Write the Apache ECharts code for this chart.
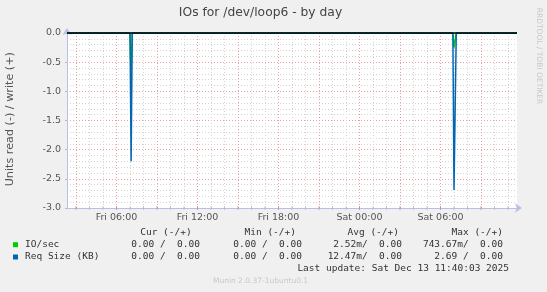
<!DOCTYPE html>
<html><head><meta charset="utf-8">
<script src="https://cdn.jsdelivr.net/npm/echarts@6/dist/echarts.min.js"></script>
<style>html,body{margin:0;padding:0;background:#f0f0f0}#c{width:547px;height:292px}</style>
</head><body><div id="c"></div>
<script>
// ---- data ----
const times   = ['Fri 02:20','Fri 07:00','Fri 07:05','Fri 07:10','Sat 06:55','Sat 07:00','Sat 07:05','Sat 07:10','Sat 11:40'];
const ioRead  = [0, 0, -0.74, 0, 0, -0.25, -0.25, 0, 0];
const reqRead = [0, 0, -2.2,  0, 0, -2.69, -2.69, 0, 0];
const seriesNames  = ['IO/sec', 'Req Size (KB)'];
const xTickLabels  = ['Fri 06:00','Fri 12:00','Fri 18:00','Sat 00:00','Sat 06:00'];
const statHeaders  = ['Cur (-/+)','Min (-/+)','Avg (-/+)','Max (-/+)'];
const ioStats      = ['0.00 /  0.00','0.00 /  0.00','2.52m/  0.00','743.67m/  0.00'];
const reqStats     = ['0.00 /  0.00','0.00 /  0.00','12.47m/  0.00','2.69 /  0.00'];
const lastUpdate   = 'Last update: Sat Dec 13 11:40:03 2025';

// ---- helpers ----
function toMin(s){const [d,hm]=s.split(' ');const [h,m]=hm.split(':').map(Number);return (d==='Sat'?1440:0)+h*60+m;}
function fmtMin(v){return (v>=1440?'Sat':'Fri')+' '+String(Math.floor((v%1440)/60)).padStart(2,'0')+':'+String(v%60).padStart(2,'0');}
const xMin = toMin(times[0]), xMax = toMin(times[times.length-1]);
const colors = ['#00cc00','#0066b3'];
const mono = 'DejaVu Sans Mono', sans = 'DejaVu Sans';
const axisCol = '#b8c0e8', minorCol = '#d4d4d4', majorCol = '#eaa0a0', none = 'rgba(0,0,0,0)';
// split lines every 20 min starting at xMin (02:20): show hourly (gray) and 3-hourly (red)
const splitColors = [];
for (let i=0;i<9;i++){const m=xMin+20*i; splitColors.push(m%180===0?majorCol:(m%60===0?minorCol:none));}
const hourTicks=[], majorTicks=[];
for (let m=Math.ceil(xMin/60)*60; m<=xMax; m+=60){ (m%180===0?majorTicks:hourTicks).push([m,-3]); }

const G = {left:67, top:33, width:450, height:175};
const chart = echarts.init(document.getElementById('c'), null, {renderer:'canvas'});
const graphic = [];
function txt(x,y,t,opt){graphic.push({type:'text',x,y,silent:true,style:Object.assign({text:t,textAlign:'left',textVerticalAlign:'middle',fill:'#333',font:'9.5px '+mono},opt||{})});}
txt(260.5,13.3,'IOs for /dev/loop6 - by day',{textAlign:'center',fill:'#444',font:'12.3px '+sans});
graphic.push({type:'text',x:10,y:119.2,rotation:Math.PI/2,silent:true,style:{text:'Units read (-) / write (+)',textAlign:'center',textVerticalAlign:'middle',fill:'#555',font:'11.2px '+sans}});
graphic.push({type:'text',x:538.5,y:56,rotation:-Math.PI/2,silent:true,style:{text:'RRDTOOL / TOBI OETIKER',textAlign:'center',textVerticalAlign:'middle',fill:'#c8c8c8',font:'7.5px '+sans}});
const hdrRight = [191.7,296,399,503], valRight = [200,302,402,503];
statHeaders.forEach((h,i)=>txt(hdrRight[i],232.3,h,{textAlign:'right'}));
[ioStats,reqStats].forEach((row,r)=>{
  const y = r===0?244.7:257;
  graphic.push({type:'rect',silent:true,shape:{x:13,y:y-2.5,width:5,height:5},style:{fill:colors[r]}});
  txt(25,y,seriesNames[r]);
  row.forEach((v,i)=>txt(valRight[i],y,v,{textAlign:'right'}));
});
txt(509,268.7,lastUpdate,{textAlign:'right'});
txt(260.5,281,'Munin 2.0.37-1ubuntu0.1',{textAlign:'center',fill:'#c8c8c8',font:'7.5px '+sans});

const dataIO  = times.map((t,i)=>[toMin(t), ioRead[i]]);
const dataReq = times.map((t,i)=>[toMin(t), reqRead[i]]);
const zeroLine = [[xMin,0],[xMax,0]];

chart.setOption({
  animation:false,
  backgroundColor:'#f0f0f0',
  grid:Object.assign({show:true,backgroundColor:'#ffffff',borderWidth:0,containLabel:false,outerBoundsMode:'none',z:0},G),
  xAxis:[
    {type:'value',position:'bottom',min:xMin,max:xMax,interval:20,z:5,
     axisLine:{show:true,onZero:false,lineStyle:{color:axisCol,width:1},symbol:['none','arrow'],symbolSize:[7,7],symbolOffset:[0,5]},
     axisTick:{show:false},
     axisLabel:{show:true,formatter:v=>{const s=fmtMin(v);return xTickLabels.includes(s)?s:'';},color:'#555',fontSize:9.5,fontFamily:sans,margin:5},
     splitLine:{show:true,lineStyle:{color:splitColors,type:[1,2],width:1}}}
  ],
  yAxis:[
    {type:'value',position:'left',min:-3,max:0,interval:0.1,z:5,
     axisLine:{show:true,onZero:false,lineStyle:{color:axisCol,width:1},symbol:['none','arrow'],symbolSize:[7,7],symbolOffset:[0,5]},
     axisTick:{show:false},axisLabel:{show:false},
     splitLine:{show:true,lineStyle:{color:minorCol,type:[1,2],width:1}}},
    {type:'value',position:'left',min:-3,max:0,interval:0.5,z:5,
     axisLine:{show:false,onZero:false},
     axisTick:{show:true,length:2,lineStyle:{color:'#bbbbbb'}},
     axisLabel:{show:true,formatter:v=>v.toFixed(1),color:'#555',fontSize:9.5,fontFamily:sans,margin:6},
     splitLine:{show:true,lineStyle:{color:majorCol,type:[1,2],width:1}}}
  ],
  series:[
    {type:'scatter',data:hourTicks,symbol:'rect',symbolSize:[1,4],itemStyle:{color:'#bbbbbb'},clip:false,silent:true,z:6},
    {type:'scatter',data:majorTicks,symbol:'rect',symbolSize:[1,4],itemStyle:{color:'#e08080'},clip:false,silent:true,z:6},
    {name:seriesNames[0],type:'line',data:dataIO,showSymbol:false,
     lineStyle:{color:colors[0],width:1.5},silent:true,z:10},
    {name:seriesNames[1],type:'line',data:dataReq,showSymbol:false,
     lineStyle:{color:colors[1],width:1.5},silent:true,z:11},
    {type:'line',data:zeroLine,showSymbol:false,silent:true,z:20,clip:false,
     lineStyle:{color:'#000000',width:1.3}}
  ],
  graphic:graphic
});
</script></body></html>
